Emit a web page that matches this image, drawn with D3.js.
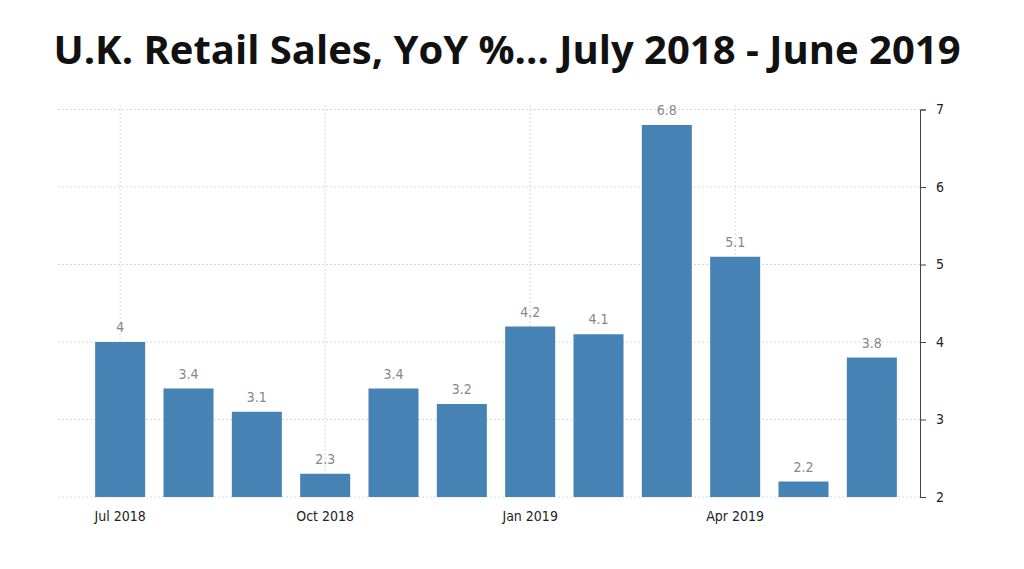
<!DOCTYPE html>
<html>
<head>
<meta charset="utf-8">
<script src="https://cdn.jsdelivr.net/npm/d3@7"></script>
<style>
  body { margin: 0; background: #fff; }
</style>
</head>
<body>
<div id="chart"></div>
<script>
const months = ["Jul 2018", "Aug 2018", "Sep 2018", "Oct 2018", "Nov 2018", "Dec 2018",
  "Jan 2019", "Feb 2019", "Mar 2019", "Apr 2019", "May 2019", "Jun 2019"];
const values = [4, 3.4, 3.1, 2.3, 3.4, 3.2, 4.2, 4.1, 6.8, 5.1, 2.2, 3.8];
const tickMonths = ["Jul 2018", "Oct 2018", "Jan 2019", "Apr 2019"];
const yTicks = [2, 3, 4, 5, 6, 7];

const width = 1024, height = 569;
const svg = d3.select("#chart").append("svg")
  .attr("width", width).attr("height", height);

// title
svg.append("text")
  .attr("x", 507).attr("y", 64)
  .attr("text-anchor", "middle")
  .attr("font-family", "Open Sans, sans-serif")
  .attr("font-weight", "bold")
  .attr("font-size", 40)
  .attr("fill", "#111")
  .text("U.K. Retail Sales, YoY %... July 2018 - June 2019");

// x band: step ~68.3px, bars 50px wide
let x = d3.scaleBand().domain(months).range([86, 906]).paddingInner(0.268).paddingOuter(0.134);
let y = d3.scaleLinear().domain([2, 7]).range([497, 109.5]);

// horizontal grid
svg.append("g").selectAll("line").data(yTicks).join("line")
  .attr("x1", 58).attr("x2", 920)
  .attr("y1", d => y(d)).attr("y2", d => y(d))
  .attr("stroke", "#d8d8d8").attr("stroke-dasharray", "2,2");

// vertical grid at tick months
svg.append("g").selectAll("line").data(tickMonths).join("line")
  .attr("x1", d => x(d) + x.bandwidth() / 2).attr("x2", d => x(d) + x.bandwidth() / 2)
  .attr("y1", 105).attr("y2", 497)
  .attr("stroke", "#d8d8d8").attr("stroke-dasharray", "2,2");

// bars
svg.append("g").selectAll("rect").data(values).join("rect")
  .attr("x", (d, i) => x(months[i]))
  .attr("width", x.bandwidth())
  .attr("y", d => y(d))
  .attr("height", d => y(2) - y(d))
  .attr("fill", "#4682b4");

// value labels
svg.append("g").selectAll("text").data(values).join("text")
  .attr("x", (d, i) => x(months[i]) + x.bandwidth() / 2)
  .attr("y", d => y(d) - 10)
  .attr("text-anchor", "middle")
  .attr("font-family", "DejaVu Sans Condensed, DejaVu Sans, sans-serif")
  .attr("font-size", 14)
  .attr("fill", "#888")
  .text(d => d);

// x axis
const xAxis = d3.axisBottom(x).tickValues(tickMonths).tickSize(0).tickPadding(14);
svg.append("g").attr("transform", "translate(0,497)").call(xAxis)
  .call(g => g.select(".domain").remove())
  .selectAll("text")
  .attr("font-family", "DejaVu Sans Condensed, DejaVu Sans, sans-serif")
  .attr("font-size", 14).attr("fill", "#222");

// y axis on the right
const yAxis = d3.axisRight(y).tickValues(yTicks).tickFormat(d3.format("d")).tickSize(6).tickPadding(10);
svg.append("g").attr("transform", "translate(920,0)").call(yAxis)
  .call(g => g.select(".domain").attr("stroke", "#444"))
  .call(g => g.selectAll(".tick line").attr("stroke", "#444"))
  .selectAll("text")
  .attr("font-family", "DejaVu Sans Condensed, DejaVu Sans, sans-serif")
  .attr("font-size", 14).attr("fill", "#222");
</script>
</body>
</html>
